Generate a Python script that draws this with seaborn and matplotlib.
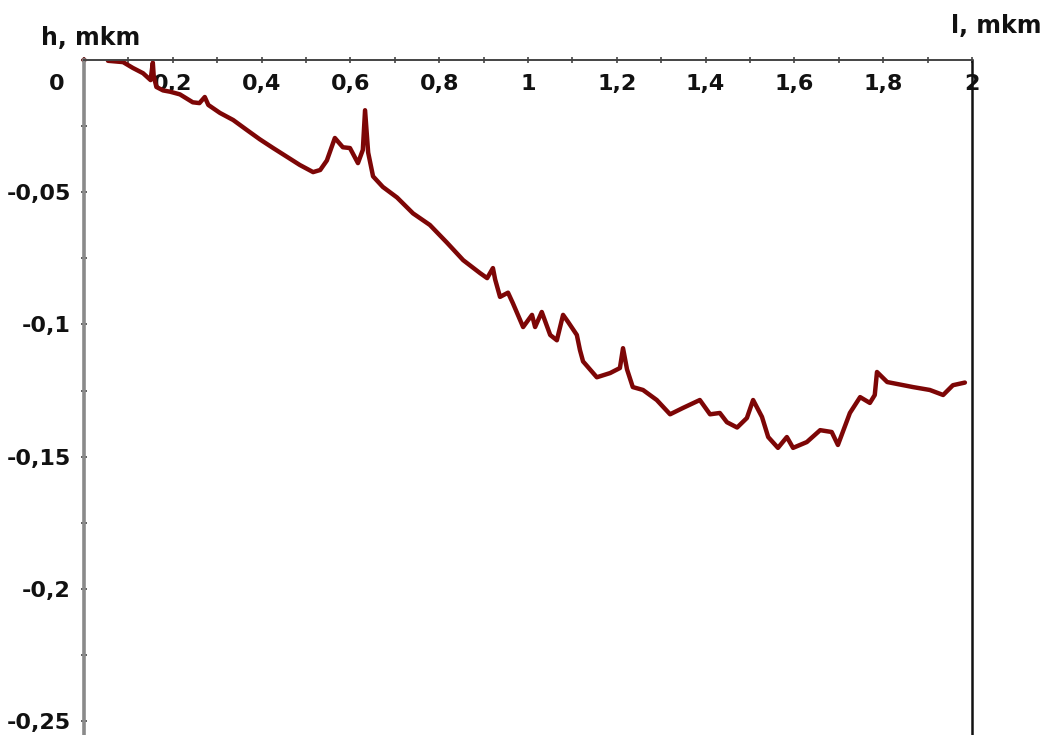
import numpy as np
import pandas as pd
import matplotlib
matplotlib.use("Agg")
import matplotlib.pyplot as plt
import seaborn as sns
from matplotlib.ticker import FixedLocator, MultipleLocator

# ---- data ----
l_vals = [0.054, 0.088, 0.110, 0.133, 0.150, 0.155, 0.157, 0.163, 0.178, 0.194,
          0.216, 0.245, 0.260, 0.272, 0.280, 0.306, 0.336, 0.367, 0.396, 0.426,
          0.457, 0.486, 0.516, 0.532, 0.547, 0.565, 0.583, 0.599, 0.617, 0.628,
          0.633, 0.640, 0.651, 0.673, 0.705, 0.741, 0.779, 0.817, 0.854, 0.892,
          0.908, 0.921, 0.926, 0.937, 0.955, 0.966, 0.989, 1.009, 1.016, 1.031,
          1.050, 1.065, 1.079, 1.090, 1.110, 1.117, 1.124, 1.155, 1.185, 1.207,
          1.214, 1.223, 1.236, 1.259, 1.290, 1.320, 1.349, 1.387, 1.410, 1.432,
          1.448, 1.471, 1.493, 1.507, 1.527, 1.541, 1.563, 1.583, 1.597, 1.628,
          1.658, 1.684, 1.698, 1.725, 1.748, 1.770, 1.781, 1.786, 1.809, 1.867,
          1.905, 1.935, 1.957, 1.984]
h_vals = [-0.0003, -0.0008, -0.0030, -0.0050, -0.0076, -0.0010, -0.0060, -0.0102, -0.0115, -0.0120,
          -0.0130, -0.0160, -0.0163, -0.0140, -0.0170, -0.0200, -0.0227, -0.0265, -0.0300, -0.0333,
          -0.0366, -0.0397, -0.0424, -0.0416, -0.0380, -0.0295, -0.0330, -0.0333, -0.0390, -0.0340,
          -0.0190, -0.0350, -0.0440, -0.0480, -0.0520, -0.0580, -0.0624, -0.0690, -0.0757, -0.0806,
          -0.0825, -0.0787, -0.0830, -0.0896, -0.0880, -0.0920, -0.1010, -0.0964, -0.1010, -0.0953,
          -0.1040, -0.1060, -0.0964, -0.0990, -0.1040, -0.1097, -0.1140, -0.1200, -0.1184, -0.1165,
          -0.1090, -0.1170, -0.1237, -0.1248, -0.1286, -0.1340, -0.1316, -0.1286, -0.1340, -0.1335,
          -0.1370, -0.1390, -0.1354, -0.1286, -0.1350, -0.1426, -0.1467, -0.1426, -0.1467, -0.1445,
          -0.1400, -0.1407, -0.1456, -0.1335, -0.1275, -0.1297, -0.1267, -0.1180, -0.1218, -0.1237,
          -0.1248, -0.1267, -0.1230, -0.1220]
x_tick_vals = [0.2, 0.4, 0.6, 0.8, 1.0, 1.2, 1.4, 1.6, 1.8, 2.0]
x_tick_labels = ["0,2", "0,4", "0,6", "0,8", "1", "1,2", "1,4", "1,6", "1,8", "2"]
y_tick_vals = [-0.05, -0.10, -0.15, -0.20, -0.25]
y_tick_labels = ["-0,05", "-0,1", "-0,15", "-0,2", "-0,25"]
x_label = "l, mkm"
y_label = "h, mkm"

df = pd.DataFrame({"l": l_vals, "h": h_vals})

sns.set_style("white")
plt.rcParams["font.family"] = ["DejaVu Sans"]

fig = plt.figure(figsize=(10.46, 7.35), dpi=100)
ax = fig.add_axes([84 / 1046, 0.0, (972 - 84) / 1046, 1 - 60 / 735])

col = "#7d0606"
sns.lineplot(data=df, x="l", y="h", sort=False, ax=ax, color=col, lw=3.2)
sns.scatterplot(x=[0.0], y=[0.0], ax=ax, color=col, s=14, edgecolor="none", clip_on=False)

ax.set_xlim(0, 2)
ax.set_ylim(-(735 - 60) / 2644, 0.0)

ax.spines["bottom"].set_visible(False)
ax.spines["left"].set_color("#8a8a8a")
ax.spines["left"].set_linewidth(2.6)
ax.spines["top"].set_color("#444444")
ax.spines["top"].set_linewidth(1.4)
ax.spines["right"].set_color("#111111")
ax.spines["right"].set_linewidth(1.8)

ax.xaxis.set_major_locator(FixedLocator(x_tick_vals))
ax.set_xticklabels(x_tick_labels)
ax.xaxis.set_minor_locator(MultipleLocator(0.1))
ax.yaxis.set_major_locator(FixedLocator(y_tick_vals))
ax.set_yticklabels(y_tick_labels)
ax.yaxis.set_minor_locator(MultipleLocator(0.025))

ax.tick_params(axis="x", which="both", top=True, bottom=False, labeltop=True,
               labelbottom=False, direction="inout", length=5, width=1.2,
               color="#444444", pad=-27)
ax.tick_params(axis="y", which="both", left=True, right=False, direction="inout",
               length=5, width=1.2, color="#444444", pad=7)
for t in ax.get_xticklabels() + ax.get_yticklabels():
    t.set_fontsize(16)
    t.set_fontweight("bold")
    t.set_color("#111111")

ax.set_xlabel("")
ax.set_ylabel("")
ax.annotate("0", xy=(0, 0), xycoords="data", xytext=(-14, -17),
            textcoords="offset points", ha="right", va="center",
            fontsize=16, fontweight="bold", color="#111111", annotation_clip=False)
fig.text(91 / 1046, 1 - 38 / 735, y_label, ha="center", va="center",
         fontsize=17, fontweight="bold", color="#111111")
fig.text(996 / 1046, 1 - 26 / 735, x_label, ha="center", va="center",
         fontsize=17, fontweight="bold", color="#111111")

fig.savefig("out.png", dpi=100)
